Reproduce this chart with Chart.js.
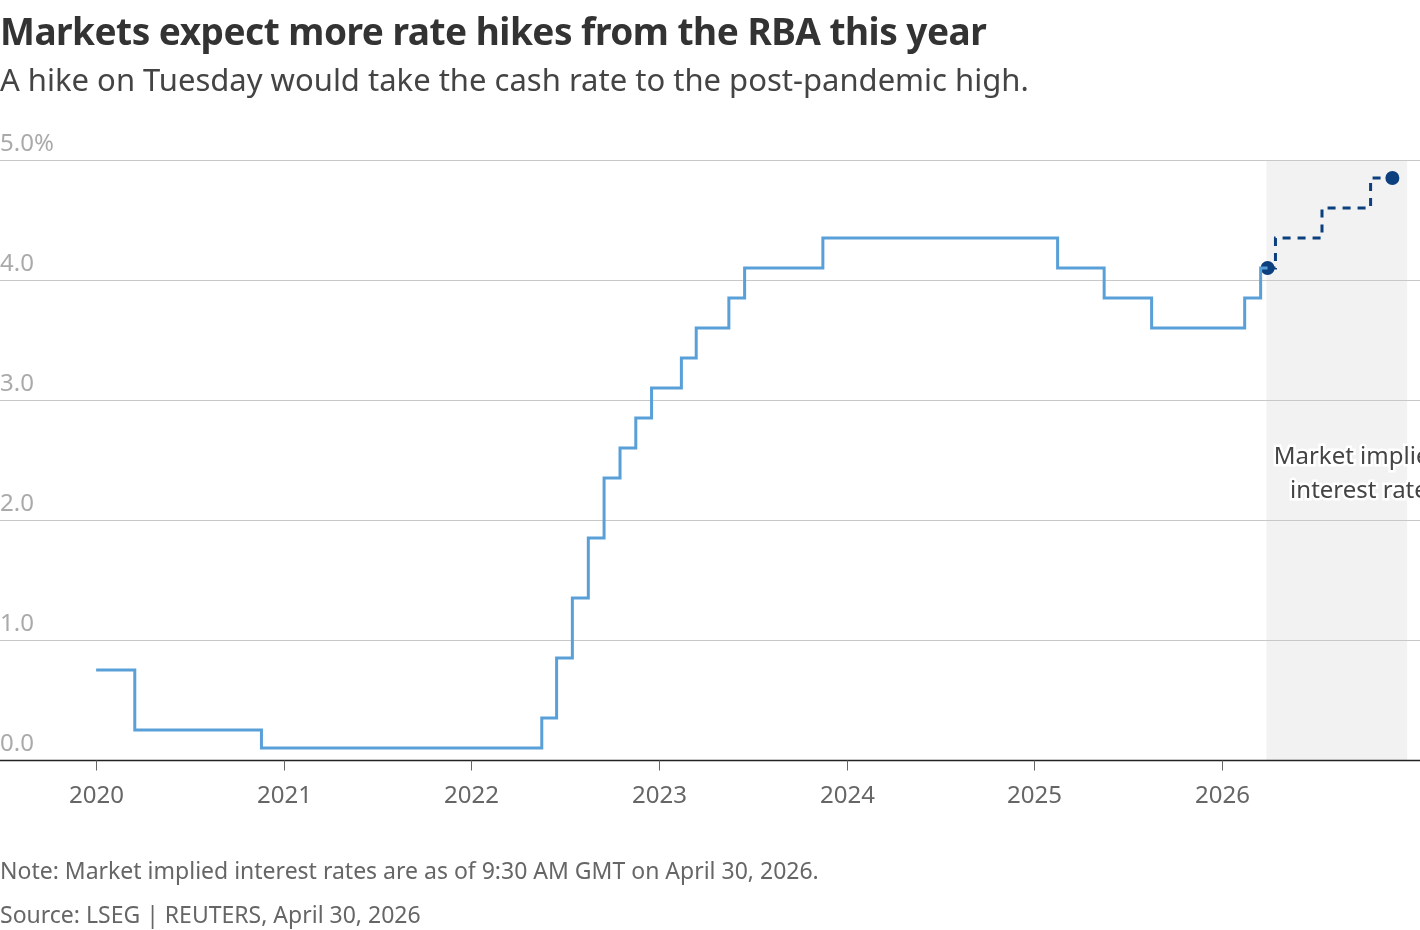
<!DOCTYPE html>
<html>
<head>
<meta charset="utf-8">
<script src="https://cdn.jsdelivr.net/npm/chart.js@4"></script>
<style>
  body { margin: 0; width: 1420px; height: 930px; position: relative; background: #fff; font-family: "Noto Sans", sans-serif; overflow: hidden; }
  #title { position: absolute; left: 0; top: 5px; font-size: 37px; font-weight: 700; color: #333; letter-spacing: -0.5px; }
  #subtitle { position: absolute; left: 0; top: 58px; font-size: 31px; color: #444; }
  .note { position: absolute; left: 0; font-size: 23px; color: #666; }
  #wrap { position: absolute; left: 0; top: 0; width: 1420px; height: 930px; }
</style>
</head>
<body>
<div id="wrap"><canvas id="chart" width="1420" height="930"></canvas></div>
<div id="title">Markets expect more rate hikes from the RBA this year</div>
<div id="subtitle">A hike on Tuesday would take the cash rate to the post-pandemic high.</div>
<div class="note" style="top:854px">Note: Market implied interest rates are as of 9:30 AM GMT on April 30, 2026.</div>
<div class="note" style="top:898px">Source: LSEG | REUTERS, April 30, 2026</div>
<script>
// --- DATA ---
const cashDates = [2020.0, 2020.206, 2020.881, 2022.375, 2022.454, 2022.538, 2022.623, 2022.707, 2022.792, 2022.876, 2022.96, 2023.119, 2023.198, 2023.372, 2023.456, 2023.873, 2025.124, 2025.372, 2025.625, 2026.121, 2026.206, 2026.243];
const cashRates = [0.75, 0.25, 0.10, 0.35, 0.85, 1.35, 1.85, 2.35, 2.60, 2.85, 3.10, 3.35, 3.60, 3.85, 4.10, 4.35, 4.10, 3.85, 3.60, 3.85, 4.10, 4.10];
const impliedDates = [2026.243, 2026.285, 2026.533, 2026.792, 2026.908];
const impliedRates = [4.10, 4.35, 4.60, 4.85, 4.85];
const yearTicks = [2020, 2021, 2022, 2023, 2024, 2025, 2026];
const rateTicks = [0, 1, 2, 3, 4, 5];
const forecastStart = 2026.237;
const forecastEnd = 2026.987;

const toPoints = (xs, ys) => xs.map((x, i) => ({ x: x, y: ys[i] }));

// Draws shading, grid, axis and labels from the chart's own scales
const decorPlugin = {
    id: 'decor',
    beforeDatasetsDraw(chart) {
        const { ctx, chartArea, scales: { x, y } } = chart;
        ctx.save();
        // forecast band
        ctx.fillStyle = '#f2f2f2';
        const x0 = x.getPixelForValue(forecastStart), x1 = x.getPixelForValue(forecastEnd);
        ctx.fillRect(x0, chartArea.top, x1 - x0, chartArea.bottom - chartArea.top);
        // grid + y labels
        ctx.font = '24px "Noto Sans"';
        ctx.textBaseline = 'bottom';
        ctx.textAlign = 'left';
        rateTicks.forEach(v => {
            const py = Math.round(y.getPixelForValue(v)) + 0.5;
            if (v > 0) {
                ctx.strokeStyle = '#c8c8c8';
                ctx.lineWidth = 1;
                ctx.beginPath(); ctx.moveTo(0, py); ctx.lineTo(chart.width, py); ctx.stroke();
            }
            ctx.fillStyle = '#aaa';
            ctx.fillText(v.toFixed(1) + (v === 5 ? '%' : ''), 0, py - 4);
        });
        // baseline
        const by = Math.round(y.getPixelForValue(0)) + 0.5;
        ctx.strokeStyle = '#222';
        ctx.lineWidth = 1.5;
        ctx.beginPath(); ctx.moveTo(0, by); ctx.lineTo(chart.width, by); ctx.stroke();
        // x ticks + labels
        ctx.fillStyle = '#666';
        ctx.textAlign = 'center';
        ctx.textBaseline = 'top';
        yearTicks.forEach(t => {
            const px = Math.round(x.getPixelForValue(t)) + 0.5;
            ctx.strokeStyle = '#666';
            ctx.lineWidth = 1;
            ctx.beginPath(); ctx.moveTo(px, by); ctx.lineTo(px, by + 10); ctx.stroke();
            ctx.fillText(String(t), px, by + 24);
        });
        ctx.restore();
    },
    afterDatasetsDraw(chart) {
        const { ctx, scales: { x, y } } = chart;
        ctx.save();
        ctx.font = '24px "Noto Sans"';
        ctx.textAlign = 'center';
        ctx.textBaseline = 'middle';
        const cx = x.getPixelForValue(2026.73);
        const lines = ['Market implied', 'interest rate'];
        lines.forEach((s, i) => {
            const py = y.getPixelForValue(2.52) + i * 34;
            ctx.lineWidth = 5;
            ctx.strokeStyle = '#fff';
            ctx.strokeText(s, cx, py);
            ctx.fillStyle = '#444';
            ctx.fillText(s, cx, py);
        });
        ctx.restore();
    }
};

new Chart(document.getElementById('chart'), {
    type: 'line',
    data: {
        datasets: [
            {
                data: toPoints(cashDates, cashRates),
                stepped: 'before',
                borderColor: '#5aa0d8',
                borderWidth: 3,
                pointRadius: 0,
                fill: false
            },
            {
                data: toPoints(impliedDates, impliedRates),
                stepped: 'before',
                borderColor: '#0b3f7d',
                borderWidth: 3,
                borderDash: [8, 7],
                pointRadius: ctx => (ctx.dataIndex === 0 || ctx.dataIndex === impliedDates.length - 1) ? 7 : 0,
                pointBackgroundColor: '#0b3f7d',
                pointBorderWidth: 0,
                fill: false
            }
        ]
    },
    plugins: [decorPlugin],
    options: {
        responsive: false,
        animation: false,
        devicePixelRatio: 1,
        layout: { padding: { top: 160, bottom: 170, left: 0, right: 0 } },
        scales: {
            x: { type: 'linear', min: 2019.525, max: 2027.018, display: false },
            y: { min: 0, max: 5, display: false }
        },
        plugins: { legend: { display: false }, tooltip: { enabled: false } }
    }
});
</script>
</body>
</html>
